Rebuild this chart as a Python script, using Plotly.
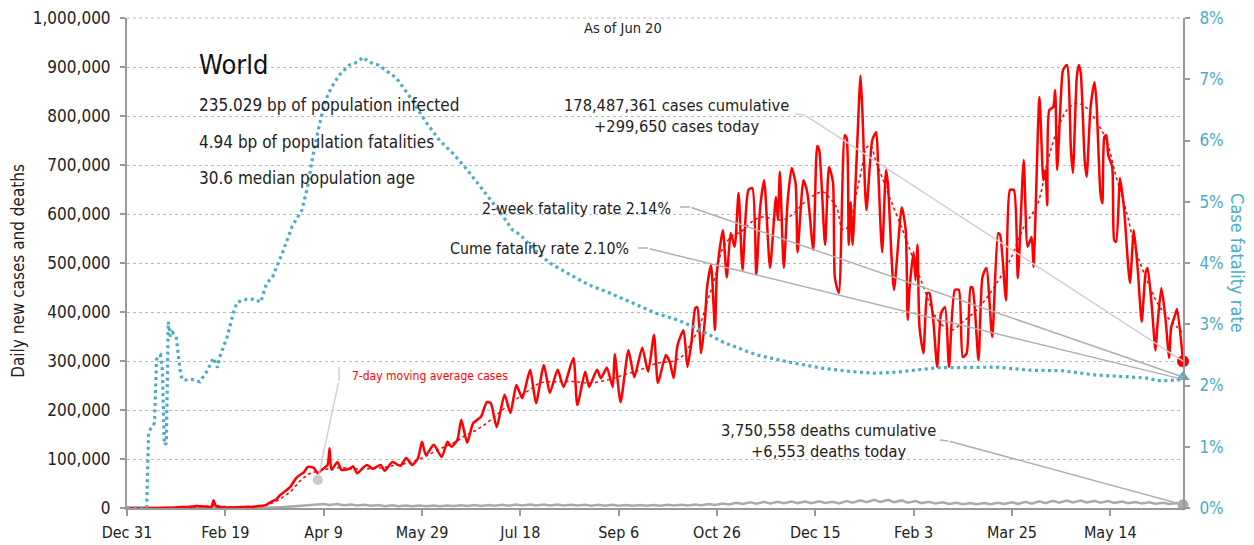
import pandas as pd
import plotly.graph_objects as go

START = pd.Timestamp("2019-12-31")
END = pd.Timestamp("2021-06-20")

# ---- daily new cases (day offset from Dec 31 2019, thousands) ----
case_day = [0, 10, 20, 23, 26, 28, 31, 33, 35, 37, 39, 41, 43, 44, 45, 46, 48, 50, 53, 55, 57, 59,
            61, 63, 65, 67, 69, 71, 73, 76, 78, 80, 83, 86, 88, 90, 92, 95, 97, 99, 102, 103, 104,
            107, 109, 113, 115, 117, 120, 122, 125, 129, 131, 135, 139, 142, 145, 148, 150, 152,
            156, 160, 163, 165, 168, 170, 173, 176, 180, 183, 185, 188, 192, 195, 198, 201, 205,
            208, 212, 215, 219, 222, 227, 229, 233, 235, 239, 241, 244, 247, 248, 251, 255, 258,
            262, 265, 268, 270, 274, 276, 278, 280, 283, 285, 287, 289, 290, 292, 294, 295, 297,
            299, 300, 303, 305, 307, 309, 311, 313, 316, 318, 320, 322, 324, 327, 330, 331, 332,
            334, 336, 338, 340, 341, 344, 346, 349, 351, 352, 355, 357, 359, 360, 362, 365, 366,
            367, 368, 369, 371, 373, 374, 376, 379, 381, 382, 384, 386, 387, 390, 394, 396, 397,
            398, 400, 401, 402, 403, 405, 407, 408, 410, 412, 414, 416, 418, 421, 423, 425, 427,
            429, 430, 433, 435, 437, 440, 443, 444, 447, 449, 451, 453, 456, 458, 460, 461, 464,
            466, 467, 468, 469, 471, 472, 473, 475, 476, 478, 480, 481, 483, 484, 485, 487, 488,
            490, 492, 493, 495, 496, 497, 498, 499, 501, 502, 503, 505, 507, 510, 512, 514, 516,
            518, 519, 521, 523, 524, 526, 528, 530, 531, 533, 534, 537]
case_k = [0, 0.1, 0.4, 0.7, 1.6, 2.0, 2.1, 2.9, 3.9, 3.7, 3.1, 2.7, 2.1, 16.0, 5.2, 2.6, 2.0, 0.9, 1.0, 1.1, 1.6, 2.0,
          2.4, 2.2, 2.9, 4.0, 4.5, 7.0, 12, 18, 27, 33, 43, 61, 68, 73, 84, 82, 71, 78, 88, 122, 78,
          94, 78, 80, 85, 71, 82, 88, 80, 88, 76, 94, 86, 102, 88, 102, 135, 108,
          129, 104, 135, 125, 139, 180, 133, 173, 186, 216, 214, 165, 231, 194, 251, 224, 282,
          214, 292, 235, 282, 247, 306, 210, 278, 247, 282, 265, 286, 247, 314, 216, 322, 267,
          327, 278, 353, 255, 312, 298, 265, 333, 363, 288, 337, 408, 410, 316, 390, 451, 496,
          363, 480, 567, 471, 561, 533, 643, 486, 649, 653, 476, 614, 669, 490, 635, 588, 686,
          490, 629, 694, 663, 522, 669, 643, 527, 739, 731, 537, 696, 665, 469, 439, 761, 755,
          537, 624, 537, 710, 882, 806, 608, 751, 767, 690, 522, 690, 659, 445, 614, 567, 384,
          451, 522, 465, 537, 369, 316, 439, 439, 384, 288, 398, 410, 288, 445, 445, 308, 316,
          451, 449, 302, 471, 490, 349, 561, 557, 424, 649, 649, 469, 710, 533, 553, 492, 839,
          669, 690, 618, 812, 818, 853, 690, 847, 894, 904, 731, 684, 880, 904, 888, 710, 676,
          818, 869, 829, 643, 622, 757, 761, 720, 696, 547, 543, 673, 612, 459, 567, 486, 380,
          480, 490, 418, 322, 373, 449, 390, 306, 369, 394, 406, 299.65]

# ---- 7-day moving average cases (thousands) ----
ma_day = [0, 20, 30, 40, 45, 50, 55, 60, 65, 70, 75, 80, 84, 88, 92, 95, 100, 105, 110, 115, 120, 127,
          135, 144, 150, 155, 161, 167, 172, 178, 185, 193, 200, 205, 210, 220, 228, 235, 245, 253,
          261, 270, 278, 283, 286, 291, 295, 299, 303, 308, 312, 318, 323, 330, 335, 340, 344, 350,
          354, 358, 361, 364, 367, 371, 374, 376, 378, 381, 383, 388, 395, 400, 405, 412, 419, 425,
          432, 440, 449, 456, 463, 468, 473, 478, 483, 488, 493, 498, 503, 508, 513, 518, 524, 529,
          534, 537]
ma_k = [0, 0.3, 1.8, 3.2, 4.5, 3.0, 1.2, 1.8, 2.8, 5, 12, 24, 37, 55, 68, 73, 78, 82, 82, 80, 80, 81,
        86, 93, 102, 112, 124, 135, 148, 160, 180, 207, 228, 242, 255, 258, 258, 255, 262, 272,
        282, 296, 300, 312, 330, 370, 420, 470, 530, 556, 563, 585, 594, 588, 590, 605, 622, 640,
        645, 630, 612, 568, 575, 643, 700, 735, 740, 705, 685, 632, 561, 506, 452, 385, 363, 380,
        404, 445, 506, 573, 620, 705, 771, 812, 826, 816, 788, 751, 676, 608, 527, 471, 418, 390,
        369, 357]

# ---- daily deaths (thousands) ----
death_day = [0, 20, 40, 50, 60, 70, 75, 80, 85, 90, 95,
             100, 103, 107, 110, 114, 117, 121, 124, 128, 131, 135, 138, 142, 145, 149, 152, 156, 159,
             163, 166, 170, 173, 177, 180, 184, 187, 191, 194, 198, 201, 205, 208, 212, 215, 219, 222,
             226, 229, 233, 236, 240, 243, 247, 250, 254, 257, 261, 264, 268, 271, 275, 278, 282, 285,
             289, 292, 296, 299, 303, 306, 310, 313, 317, 320, 324, 327, 331, 334, 338, 341, 345, 348,
             352, 355, 359, 362, 366, 369, 373, 376, 380, 383, 387, 390, 394, 397, 401, 404, 408, 411,
             415, 418, 422, 425, 429, 432, 436, 439, 443, 446, 450, 453, 457, 460, 464, 467, 471, 474,
             478, 481, 485, 488, 492, 495, 499, 502, 506, 509, 513, 516, 520, 523, 527, 530, 534, 537]
death_k = [0, 0.05, 0.1, 0.1, 0.1, 0.4, 1.0, 1.8, 3.0, 4.5, 6.0,
           8.0, 6.0, 8.2, 5.8, 7.2, 5.0, 6.8, 4.5, 6.0, 3.8, 5.5, 3.6, 5.2, 3.5, 5.2, 3.6, 5.3, 3.8,
           5.3, 3.9, 5.5, 4.2, 6.0, 4.3, 6.2, 4.5, 6.8, 4.8, 7.0, 5.0, 7.2, 5.2, 7.0, 5.0, 7.0, 5.0,
           6.8, 4.9, 6.6, 4.8, 6.5, 4.8, 6.4, 4.7, 6.3, 4.6, 6.2, 4.7, 6.3, 4.8, 6.6, 5.0, 6.8, 5.3,
           7.3, 5.6, 8.0, 6.2, 9.0, 7.0, 10.5, 8.0, 11.5, 8.8, 12.5, 9.5, 12.8, 9.8, 13.0, 10.0, 13.2, 10.0,
           13.5, 10.3, 12.5, 9.5, 14.0, 11.0, 15.5, 12.0, 16.5, 12.5, 16.5, 12.0, 15.5, 11.0, 14.0, 10.0, 12.8, 9.0,
           11.5, 8.3, 10.5, 7.8, 10.0, 7.5, 10.0, 7.6, 10.5, 8.0, 11.5, 8.5, 12.5, 9.0, 13.5, 10.0, 14.5, 11.0,
           15.0, 11.5, 15.0, 11.5, 14.5, 11.0, 14.0, 10.5, 13.0, 9.8, 12.0, 9.0, 11.5, 8.5, 10.5, 8.0, 10.0, 6.553]

# ---- case fatality rate (%) ----
cfr_day = [0, 10, 11, 13, 14, 15, 16, 17, 18, 19, 20, 21, 22, 23, 25, 27, 28, 30, 33, 37, 41, 44, 46, 47,
           51, 54, 56, 61, 65, 68, 71, 74, 79, 84, 89, 92, 95, 98, 101, 104, 108, 113, 117, 120, 123,
           128, 137, 145, 152, 159, 166, 173, 181, 190, 196, 200, 207, 215, 227, 235, 244, 252, 261,
           269, 280, 290, 303, 320, 337, 354, 371, 381, 392, 412, 442, 459, 476, 493, 510, 519, 524,
           530, 537]
cfr_pct = [0, 0, 1.24, 1.33, 1.39, 2.42, 2.48, 2.5, 2.25, 1.03, 1.06, 3.04, 2.8, 2.87, 2.8, 2.25, 2.1, 2.09,
           2.1, 2.06, 2.25, 2.45, 2.29, 2.45, 2.8, 3.18, 3.36, 3.41, 3.41, 3.36, 3.67, 3.77, 4.16, 4.6,
           4.87, 5.27, 5.84, 6.28, 6.66, 6.87, 7.07, 7.23, 7.28, 7.36, 7.28, 7.23, 7.02, 6.66, 6.3, 6.0,
           5.78, 5.52, 5.2, 4.82, 4.54, 4.46, 4.22, 4.0, 3.78, 3.64, 3.53, 3.42, 3.29, 3.18, 3.07, 2.93,
           2.71, 2.5, 2.38, 2.28, 2.22, 2.2, 2.22, 2.29, 2.3, 2.25, 2.24, 2.17, 2.14, 2.12, 2.08, 2.08,
           2.10]

two_week_rate = [2.14]
callout_day = [97]
callout_k = [57]

cases_total = "178,487,361"
cases_today = "+299,650"
deaths_total = "3,750,558"
deaths_today = "+6,553"


def to_dates(days):
    return [START + pd.Timedelta(days=d) for d in days]


RED = "#ff0000"
TEAL = "#4bacc6"
GREY = "#aaaaaa"
FONT = "DejaVu Sans Condensed, Liberation Sans Narrow, sans-serif"

case_x = to_dates(case_day)
last_x = case_x[-1]

fig = go.Figure()
fig.add_trace(go.Scatter(x=to_dates(death_day), y=[v * 1000 for v in death_k], mode="lines",
                         line=dict(color=GREY, width=2.5), hoverinfo="skip"))
fig.add_trace(go.Scatter(x=to_dates(cfr_day), y=cfr_pct, yaxis="y2", mode="lines",
                         line=dict(color=TEAL, width=3.2, dash="3px,3.5px"), hoverinfo="skip"))
fig.add_trace(go.Scatter(x=to_dates(ma_day), y=[v * 1000 for v in ma_k], mode="lines",
                         line=dict(color=RED, width=1.5, dash="dot", shape="spline"), hoverinfo="skip"))
fig.add_trace(go.Scatter(x=case_x, y=[v * 1000 for v in case_k], mode="lines",
                         line=dict(color=RED, width=2.5, shape="spline", smoothing=0.6), hoverinfo="skip"))
# end markers
fig.add_trace(go.Scatter(x=[last_x], y=[case_k[-1] * 1000], mode="markers", cliponaxis=False,
                         marker=dict(color=RED, size=12)))
fig.add_trace(go.Scatter(x=[last_x], y=[death_k[-1] * 1000], mode="markers", cliponaxis=False,
                         marker=dict(color=GREY, size=11)))
fig.add_trace(go.Scatter(x=[last_x], y=two_week_rate, yaxis="y2", mode="markers", cliponaxis=False,
                         marker=dict(color=TEAL, size=12, symbol="triangle-up")))
fig.add_trace(go.Scatter(x=to_dates(callout_day), y=[v * 1000 for v in callout_k], mode="markers",
                         marker=dict(color="#c8c8c8", size=10)))

ann = []
txt = dict(xref="paper", yref="paper", showarrow=False)
ann.append(dict(txt, x=0.066, y=0.905, xanchor="left", yanchor="middle", text="World",
                font=dict(family=FONT, size=27, color="#111")))
ann.append(dict(txt, x=0.066, y=0.822, xanchor="left", yanchor="middle",
                text="235.029 bp of population infected", font=dict(family=FONT, size=17, color="#222")))
ann.append(dict(txt, x=0.066, y=0.747, xanchor="left", yanchor="middle",
                text="4.94 bp of population fatalities", font=dict(family=FONT, size=17, color="#222")))
ann.append(dict(txt, x=0.066, y=0.673, xanchor="left", yanchor="middle",
                text="30.6 median population age", font=dict(family=FONT, size=17, color="#222")))
ann.append(dict(txt, x=0.47, y=0.98, xanchor="center", yanchor="middle", text="As of Jun 20",
                font=dict(family=FONT, size=14.5, color="#222")))
ann.append(dict(txt, x=0.52, y=0.801, xanchor="center", yanchor="middle",
                text=f"{cases_total} cases cumulative<br>{cases_today} cases today",
                font=dict(family=FONT, size=16.3, color="#222")))
ann.append(dict(txt, x=0.517, y=0.612, xanchor="right", yanchor="middle",
                text=f"2-week fatality rate {two_week_rate[0]:.2f}%", font=dict(family=FONT, size=15.8, color="#222")))
ann.append(dict(txt, x=0.477, y=0.529, xanchor="right", yanchor="middle",
                text=f"Cume fatality rate {cfr_pct[-1]:.2f}%", font=dict(family=FONT, size=15.8, color="#222")))
ann.append(dict(txt, x=0.664, y=0.136, xanchor="center", yanchor="middle",
                text=f"{deaths_total} deaths cumulative<br>{deaths_today} deaths today",
                font=dict(family=FONT, size=16.3, color="#222")))
ann.append(dict(txt, x=0.211, y=0.269, xanchor="left", yanchor="middle",
                text="7-day moving average cases", font=dict(family=FONT, size=12, color=RED)))
# axis titles
ann.append(dict(txt, x=-0.1032, y=0.484, xanchor="center", yanchor="middle", textangle=-90,
                text="Daily new cases and deaths", font=dict(family=FONT, size=17, color="#222")))
ann.append(dict(txt, x=1.052, y=0.5, xanchor="center", yanchor="middle", textangle=90,
                text="Case fatality rate", font=dict(family=FONT, size=18, color=TEAL)))

lead = dict(showarrow=True, arrowhead=0, arrowwidth=1.5, text="", standoff=0, startstandoff=0)
ann.append(dict(lead, x=last_x, y=case_k[-1] * 1000, xref="x", yref="y", ax=-378, ay=-246,
                arrowcolor="#d0d0d0"))
ann.append(dict(lead, x=last_x, y=two_week_rate[0], xref="x", yref="y2", ax=-493, ay=-170,
                arrowcolor="#b0b0b0"))
ann.append(dict(lead, x=last_x, y=cfr_pct[-1], xref="x", yref="y2", ax=-535, ay=-131,
                arrowcolor="#b0b0b0"))
ann.append(dict(lead, x=last_x, y=death_k[-1] * 1000, xref="x", yref="y", ax=-235, ay=-64,
                arrowcolor="#b0b0b0"))
ann.append(dict(lead, x=to_dates(callout_day)[0], y=callout_k[0] * 1000, xref="x", yref="y", ax=21, ay=-99,
                arrowcolor="#d0d0d0"))

shapes = [
    dict(type="line", xref="paper", yref="paper", x0=0.6326, y0=0.804, x1=0.642, y1=0.802,
         line=dict(color="#d0d0d0", width=1.5)),
    dict(type="line", xref="paper", yref="paper", x0=0.5237, y0=0.6143, x1=0.5331, y1=0.6143,
         line=dict(color="#b0b0b0", width=1.5)),
    dict(type="line", xref="paper", yref="paper", x0=0.4839, y0=0.5306, x1=0.4934, y1=0.5306,
         line=dict(color="#b0b0b0", width=1.5)),
    dict(type="line", xref="paper", yref="paper", x0=0.7699, y0=0.1388, x1=0.7775, y1=0.1367,
         line=dict(color="#b0b0b0", width=1.5)),
    dict(type="line", xref="paper", yref="paper", x0=0.2008, y0=0.2878, x1=0.2008, y1=0.259,
         line=dict(color="#d0d0d0", width=1.5)),
    # dotted gridline at the top of the value axis
    dict(type="line", xref="paper", yref="paper", x0=0, y0=1, x1=1, y1=1,
         line=dict(color="#bbbbbb", width=1, dash="dot"), layer="below"),
]

fig.update_layout(
    width=1254, height=545,
    margin=dict(l=119, r=79, t=10, b=45, autoexpand=False),
    paper_bgcolor="white", plot_bgcolor="white",
    showlegend=False,
    font=dict(family=FONT, color="#222"),
    annotations=ann, shapes=shapes,
    xaxis=dict(type="date", range=[START, END], tick0=START, dtick=50 * 86400000,
               tickformat="%b %-d", showgrid=False, zeroline=False, automargin=False,
               ticklabeloverflow="allow",
               showline=True, linecolor="#999", linewidth=2,
               ticks="outside", ticklen=6, tickcolor="#999", tickwidth=1.5, ticklabelstandoff=3,
               tickfont=dict(family=FONT, size=16, color="#222")),
    yaxis=dict(range=[0, 1000000], dtick=100000, tickformat=",", zeroline=False, automargin=False,
               ticklabeloverflow="allow",
               showgrid=True, gridcolor="#bbbbbb", griddash="dot", gridwidth=1,
               showline=True, linecolor="#999", linewidth=2,
               ticks="outside", ticklen=5, tickcolor="#999", tickwidth=1.5, ticklabelstandoff=6,
               tickfont=dict(family=FONT, size=17, color="#222")),
    yaxis2=dict(range=[0, 8], dtick=1, ticksuffix="%", overlaying="y", side="right",
                showgrid=False, zeroline=False, automargin=False,
                ticklabeloverflow="allow",
                showline=True, linecolor="#999", linewidth=2,
                ticks="outside", ticklen=5, tickcolor="#999", tickwidth=1.5, ticklabelstandoff=6,
                tickfont=dict(family=FONT, size=17, color=TEAL)),
)

fig.write_html("out.html")
